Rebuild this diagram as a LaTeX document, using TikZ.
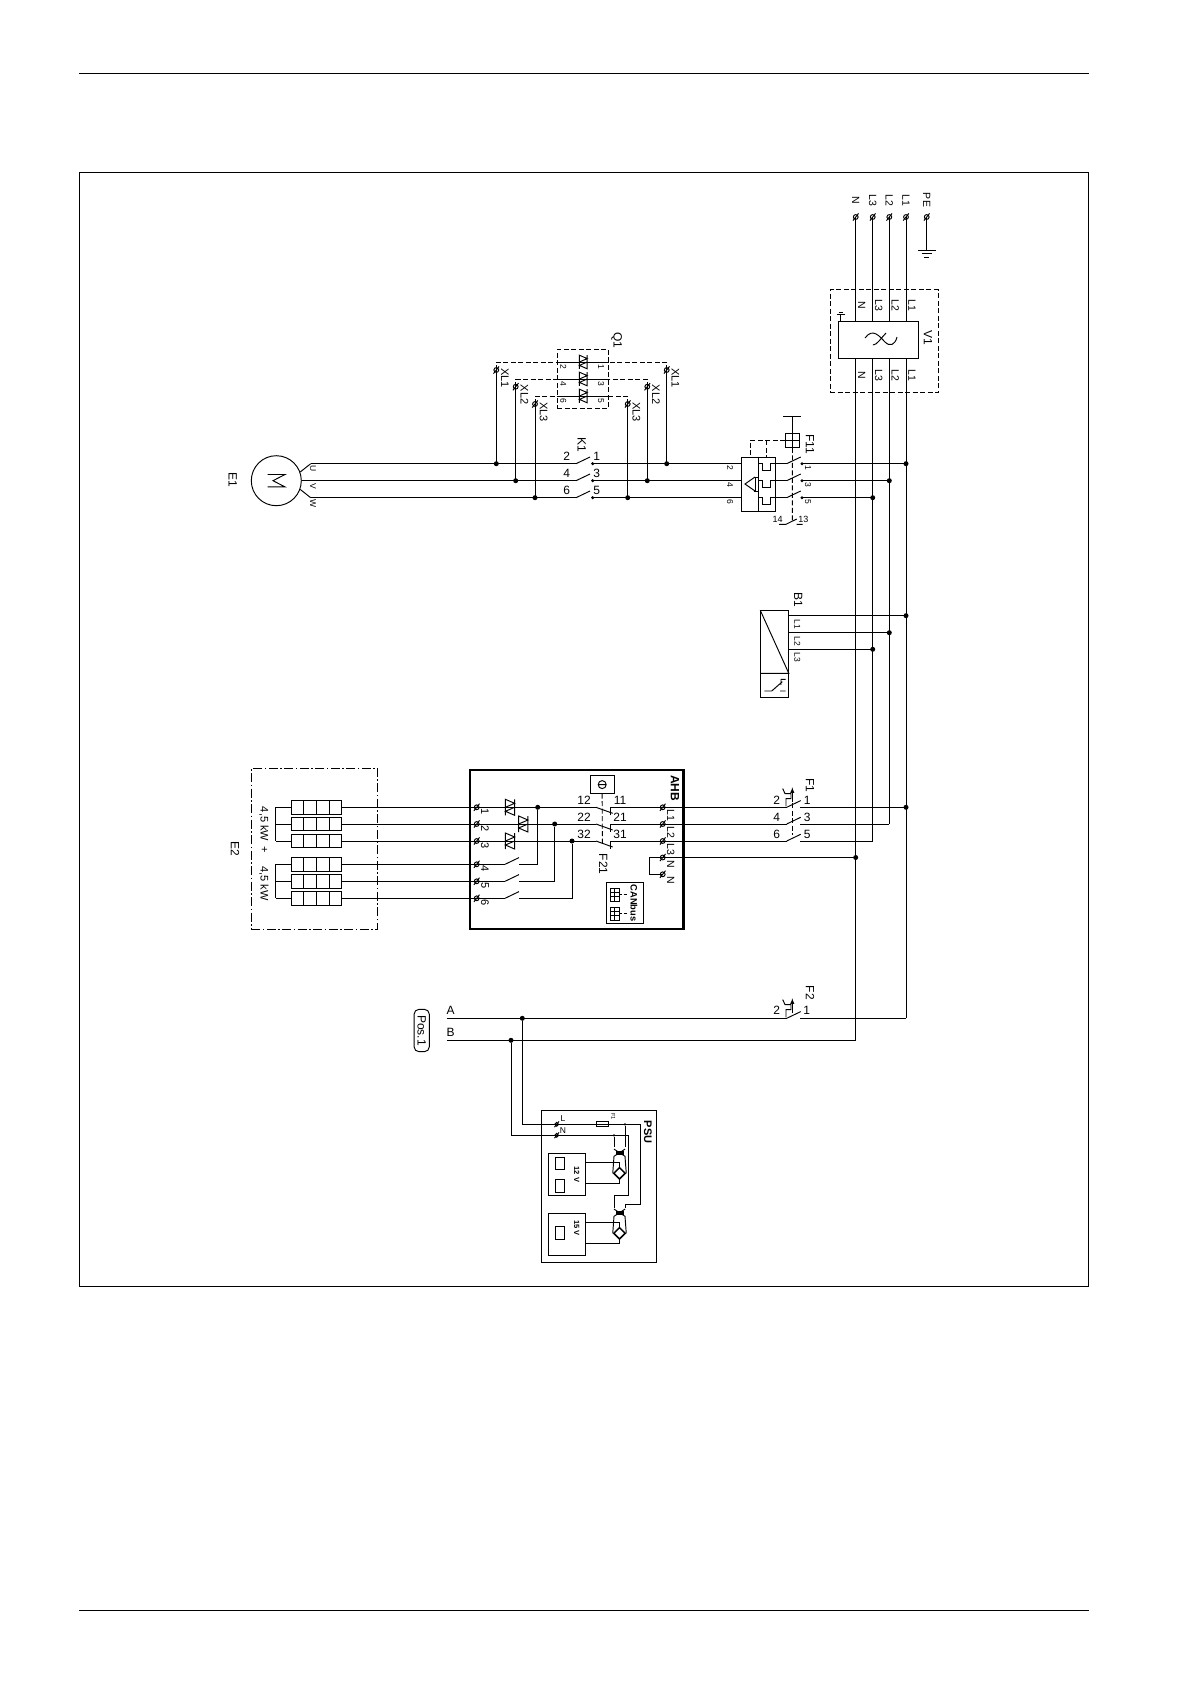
\documentclass[tikz,border=0pt]{standalone}
\usepackage{fontspec}
\setmainfont{Liberation Sans}
\usetikzlibrary{shapes.geometric}

\newcommand{\fsz}[1]{\fontsize{#1}{#1}\selectfont}

\begin{document}
\begin{tikzpicture}
    [
        x = 1pt, y = -1pt,
        line width          = .95pt,
        every node/.style   = {font=\fsz{10.5}, inner sep=0},
        boxed/.style        = {shape=rectangle, draw},
        dashbox/.style      = {shape=rectangle, draw, dash pattern=on 5pt off 2.5pt},
        dashline/.style     = {dash pattern=on 5pt off 2.5pt},
        dashdot/.style      = {dash pattern=on 9pt off 2.5pt on 1.5pt off 2.5pt},
        lab/.style          = {rotate=-90},
        biglab/.style       = {rotate=-90, font=\fsz{12}},
        num/.style          = {font=\fsz{12}},
        tiny/.style         = {rotate=-90, font=\fsz{8.5}},
        bold/.style         = {rotate=-90, font=\fsz{7.5}\bfseries},
        junction/.style     = {circle, fill, minimum size=5pt},
        clamp/.pic          = {\draw (0,0) circle (2.4); \draw (-2.8,3.6) -- (2.8,-3.6);},
        blade/.pic          = {\draw (0,0) -- (14,-6.7);},
        triac/.pic          = {\draw (-4.6,-8) -- (-4.6,8) (4.6,-8) -- (4.6,8)
                                     (-4.6,-8) -- (4.6,-4) -- (-4.6,0) -- cycle
                                     (4.6,0) -- (-4.6,4) -- (4.6,8) -- cycle;},
        heater/.pic         = {\draw (0,-6.7) rectangle (50.7,6.7);
                               \foreach \cx in {12.7,25.3,38} {\draw (\cx,-6.7) -- (\cx,6.7);}},
        thermal/.pic        = {\draw (-6.3,-1) -- (-6.3,-8.7) -- (-1.3,-8.7) -- (-1.3,-13.7)
                                     -- (-7.3,-13.7) -- (-9.6,-18.7);
                               \draw [-latex] (0,-5) -- (0,-20);},
        coils/.pic          = {\fill (-4,-1.8) rectangle (4,1.8);
                               \draw (-5.5,-3.6) -- (5.5,3.6) (5.5,-3.6) -- (-5.5,3.6);},
        plug/.pic           = {\draw [line width=.7pt] (0,0) rectangle (9,13) (4.5,0) -- (4.5,13)
                                     (0,4.3) -- (9,4.3) (0,8.7) -- (9,8.7);
                               \draw [line width=.7pt, dash pattern=on 3pt off 1.5pt] (9,6.5) -- (18,6.5);}
    ]
    \useasboundingbox (0,0) rectangle (1190,1684);

    % page
    \draw (79,73.5) -- (1089,73.5);
    \draw (79,1610) -- (1089,1610);
    \node [boxed, minimum width=1009pt, minimum height=1114pt] (frame) at (583.5,729) {};

    % supply
    \foreach \nm/\xx/\yend in {N/855.7/1040.3, L3/872.7/840.7, L2/889.3/824, L1/906/1018.3} {
        \coordinate (top\nm) at (\xx,217);
        \coordinate (bot\nm) at (\xx,\yend);
        \pic at (top\nm) {clamp};
        \node [lab] (sup\nm) at (\xx,200) {\nm};
        \node [lab] (vin\nm) at (\xx+6,305) {\nm};
        \node [lab] (vout\nm) at (\xx+6,375) {\nm};
    }
    \coordinate (topPE) at (926.7,217);
    \pic at (topPE) {clamp};
    \node [lab] (supPE) at (926.7,200) {PE};
    \coordinate (earth) at (926.7,250);
    \draw (topPE) -- (earth);
    \draw (918,250) -- (936,250) (921.5,253.5) -- (932,253.5) (924.2,257) -- (929.2,257);

    \node [dashbox, minimum width=108pt, minimum height=102.7pt] (V1frame) at (884,341.3) {};
    \node [boxed, minimum width=79.3pt, minimum height=37pt] (V1) at (878.35,340.2) {};
    \node [biglab] (labV1) at (928,338) {V1};
    \foreach \nm in {N,L3,L2,L1} {
        \draw (top\nm) -- (top\nm |- V1.north);
        \draw (top\nm |- V1.south) -- (bot\nm);
    }
    \draw (865,338) .. controls (873,327) and (880,337) .. (885,342) .. controls (890,347) and (895,345) .. (897,337);
    \draw (873,345) .. controls (877,345) and (881,338) .. (886,333);
    \draw (840.7,321.7) -- (840.7,314) (837,314) -- (844.5,314) (838.5,312.5) -- (843,312.5);

    % fan
    \node [circle, draw, minimum size=50pt] (E1) at (276.3,480.7) {};
    \node [biglab] (labE1) at (232.7,480) {E1};
    \draw (267.5,474.5) -- (285,474.5) -- (273,480.7) -- (285,486.9) -- (267.5,486.9);
    \coordinate (mot1) at (310.7,463.7);
    \coordinate (mot2) at (E1.east);
    \coordinate (mot3) at (310.7,497.7);
    \draw (E1.20) -- (mot1);
    \draw (E1.-20) -- (mot3);
    \node [tiny] (labU) at (313,469) {U};
    \node [tiny] (labV) at (313,486.7) {V};
    \node [tiny] (labW) at (313,504) {W};
    \node [biglab] (labK1) at (581.7,445) {K1};

    \node [boxed, minimum width=34pt, minimum height=54pt] (F11) at (758.7,484) {};
    \draw (F11.north) -- (F11.south);
    \foreach \i/\yy/\xbus/\ka/\kb in {1/463.7/906/2/1, 2/480.7/889.3/4/3, 3/497.7/872.7/6/5} {
        \draw (mot\i) -- (576,\yy);
        \pic at (576,\yy) {blade};
        \draw (592.7,\yy) circle (1);
        \draw (592.7,\yy) -- (741.7,\yy);
        \draw (F11.north |- 0,\yy) -- (762.7,\yy) -- (762.7,\yy+6.7) -- (770.7,\yy+6.7) -- (770.7,\yy) -- (786.7,\yy);
        \pic at (786.7,\yy) {blade};
        \draw (802,\yy) circle (1);
        \draw (802,\yy) -- (\xbus,\yy);
        \node [junction] (dotF\i) at (\xbus,\yy) {};
        \node [num] (kla\i) at (566.7,\yy-7) {\ka};
        \node [num] (klb\i) at (596.7,\yy-7) {\kb};
        \node [tiny] (fla\i) at (730,\yy+4.5) {\ka};
        \node [tiny] (flb\i) at (808,\yy+4.5) {\kb};
    }
    \draw (755,477) -- (745,484) -- (755,491);
    \draw (755.5,477) -- (755.5,491) (753.5,477) -- (757.5,477) (753.5,491) -- (757.5,491);
    \node [boxed, minimum width=13.6pt, minimum height=14pt] (F11coil) at (792.5,440.3) {};
    \draw (F11coil.north) -- (F11coil.south) (F11coil.west) -- (F11coil.east);
    \draw (F11coil.north) -- (792.5,416.7) (783,416.7) -- (801,416.7);
    \draw [dashline] (F11coil.south) -- (792.3,521);
    \draw [dashline] (F11coil.west) -- (750,440.3) -- (750,457);
    \draw [dashline] (766.7,440.3) -- (766.7,457);
    \draw (779,524.3) -- (786,524.3) -- (796.7,519) (796.7,524.3) -- (802.7,524.3);
    \node [font=\fsz{9}] (aux14) at (777.7,519) {14};
    \node [font=\fsz{9}] (aux13) at (803.3,519) {13};
    \node [biglab] (labF11) at (810,444) {F11};

    % bypass
    \node [dashbox, minimum width=51pt, minimum height=59.4pt] (Q1) at (582.8,379) {};
    \node [biglab] (labQ1) at (616.7,340) {Q1};
    \foreach \xa/\xb/\yy/\yt/\ybus/\nm/\qa/\qb in {496.3/666.7/362/370/463.7/XL1/2/1, 515.7/647.3/379/386.7/480.7/XL2/4/3, 535/627.7/396/404/497.7/XL3/6/5} {
        \coordinate (xa\nm) at (\xa,\yt);
        \coordinate (xb\nm) at (\xb,\yt);
        \pic at (xa\nm) {clamp};
        \pic at (xb\nm) {clamp};
        \draw [dashline] (xa\nm) -- (\xa,\yy) -- (Q1.west |- 0,\yy);
        \draw [dashline] (xb\nm) -- (\xb,\yy) -- (Q1.east |- 0,\yy);
        \draw (Q1.west |- 0,\yy) -- (Q1.east |- 0,\yy);
        \pic [scale=.85] at (583.3,\yy) {triac};
        \draw (xa\nm) -- (\xa,\ybus);
        \draw (xb\nm) -- (\xb,\ybus);
        \node [junction] (doa\nm) at (\xa,\ybus) {};
        \node [junction] (dob\nm) at (\xb,\ybus) {};
        \node [lab, font=\fsz{11}] (laa\nm) at (\xa+8.7,\yt+8) {\nm};
        \node [lab, font=\fsz{11}] (lab\nm) at (\xb+8.7,\yt+8) {\nm};
        \node [tiny] (qla\nm) at (563.3,\yy+4.7) {\qa};
        \node [tiny] (qlb\nm) at (601,\yy+4.7) {\qb};
    }

    % sensor
    \node [boxed, minimum width=27.6pt, minimum height=86.6pt] (B1) at (774.5,654) {};
    \node [biglab] (labB1) at (798.3,600) {B1};
    \draw (B1.north west) -- (B1.east |- 0,673.3) -- (B1.west |- 0,673.3);
    \foreach \nm/\yy/\xbus/\yl in {L1/615.7/906/624, L2/632.7/889.3/641, L3/649.3/872.7/657.5} {
        \draw (B1.east |- 0,\yy) -- (\xbus,\yy);
        \node [junction] (dotB\nm) at (\xbus,\yy) {};
        \node [lab, font=\fsz{8.5}] (lab\nm) at (797.3,\yl) {\nm};
    }
    \draw (764.3,691) -- (771.7,691) -- (782.3,681.7) (781,685) -- (781,679.3) -- (785.7,679.3) (780,691) -- (785.7,691);

    % heaters
    \node [shape=rectangle, draw, dashdot, minimum width=126.4pt, minimum height=161pt] (E2) at (314.5,848.8) {};
    \node [biglab] (labE2) at (235,849) {E2};
    \node [lab, font=\fsz{11}] (kwa) at (264,824) {4,5 kW};
    \node [lab, font=\fsz{11}] (plus) at (264,849.3) {+};
    \node [lab, font=\fsz{11}] (kwb) at (264,883.3) {4,5 kW};
    \node [boxed, line width=2.4pt, minimum width=213.3pt, minimum height=159pt] (AHB) at (576.65,849.5) {};
    \node [lab, font=\fsz{12}\bfseries] (labAHB) at (675,788) {AHB};
    \foreach \i/\yy in {1/807.3, 2/824, 3/841, 4/864.3, 5/881.3, 6/898.3} {
        \coordinate (ht\i) at (291,\yy);
        \coordinate (cl\i) at (476.7,\yy);
        \pic at (ht\i) {heater};
        \pic at (cl\i) {clamp};
        \draw (341.7,\yy) -- (cl\i);
        \draw (ht\i) -- (275.7,\yy);
        \node [lab, font=\fsz{11}] (cln\i) at (485,\yy+4.5) {\i};
    }
    \draw (275.7,807.3) -- (275.7,841) (275.7,864.3) -- (275.7,898.3);

    % heater contactor
    \foreach \i/\xdot/\yy/\ylow/\pa/\pb/\nm/\yl in {1/537.7/807.3/864.3/12/11/L1/815, 2/554.7/824/881.3/22/21/L2/832, 3/572/841/898.3/32/31/L3/849} {
        \coordinate (clr\i) at (662.7,\yy);
        \pic at (clr\i) {clamp};
        \draw (cl\i) -- (596,\yy);
        \draw (596,\yy) -- (612.7,\yy+6);
        \draw (610,\yy+8) -- (610,\yy) -- (clr\i);
        \node [junction] (dotA\i) at (\xdot,\yy) {};
        \pgfmathtruncatemacro{\lowi}{\i+3}
        \draw (cl\lowi) -- (505,\ylow);
        \pic at (505,\ylow) {blade};
        \draw (519,\ylow) -- (\xdot,\ylow) -- (dotA\i);
        \node [num] (pla\i) at (584,\yy-7) {\pa};
        \node [num] (plb\i) at (620,\yy-7) {\pb};
        \node [lab] (cll\i) at (670.7,\yl) {\nm};
    }
    \pic at (510,807.3) {triac};
    \pic at (523.3,824) {triac};
    \pic at (510,841) {triac};
    \node [boxed, minimum width=24.3pt, minimum height=17.3pt] (F21coil) at (602.2,784.6) {};
    \draw (602.2,784.6) circle (4) (598.2,784.6) -- (606.2,784.6);
    \draw [dashline] (F21coil.south) -- (602.3,845);
    \node [biglab] (labF21) at (603.3,864) {F21};
    \coordinate (clN) at (662.7,857.5);
    \coordinate (clM) at (662.7,874.3);
    \pic at (clN) {clamp};
    \pic at (clM) {clamp};
    \draw (clN) -- (649.3,857.5) -- (649.3,874.3) -- (clM);
    \node [lab] (labN) at (670.7,864) {N};
    \node [lab] (labM) at (670.7,880.7) {N};
    \node [boxed, minimum width=36.6pt, minimum height=41pt] (CAN) at (625,902.8) {};
    \node [bold, font=\fsz{9.3}\bfseries] (labCAN) at (634,903) {CANbus};
    \pic at (610,888) {plug};
    \pic at (610,907) {plug};

    % line protection
    \foreach \i/\yy/\xbus/\ka/\kb in {1/807.3/906/2/1, 2/824/889.3/4/3, 3/841/872.7/6/5} {
        \draw (clr\i) -- (786.7,\yy);
        \pic at (786.7,\yy) {blade};
        \draw (800,\yy) -- (\xbus,\yy);
        \node [num] (fna\i) at (776.7,\yy-7) {\ka};
        \node [num] (fnb\i) at (807.3,\yy-7) {\kb};
    }
    \node [junction] (dotL1) at (906,807.3) {};
    \draw (clN) -- (855.7,857.5);
    \node [junction] (dotN) at (855.7,857.5) {};
    \draw [dashline] (792.3,803) -- (792.3,835);
    \pic at (792.3,807.3) {thermal};
    \node [biglab] (labF1) at (810,785) {F1};

    % control supply
    \coordinate (lineA) at (446.7,1018.3);
    \coordinate (lineB) at (446.7,1040.3);
    \node [num] (labA) at (450.7,1010) {A};
    \node [num] (labB) at (450.7,1032.7) {B};
    \node [rectangle, rounded corners=5pt, draw, minimum width=15.3pt, minimum height=42.4pt] (pos) at (421.7,1030.5) {};
    \node [biglab] (labpos) at (421.7,1030.5) {Pos.1};
    \draw (lineA) -- (786.7,1018.3);
    \pic at (786.7,1018.3) {blade};
    \pic at (792.3,1018.3) {thermal};
    \draw (800,1018.3) -- (botL1);
    \draw (lineB) -- (botN);
    \node [num] (fsa) at (776.7,1010.7) {2};
    \node [num] (fsb) at (806.7,1010.7) {1};
    \node [biglab] (labF2) at (810,992.7) {F2};
    \node [junction] (dotA) at (522.3,1018.3) {};
    \node [junction] (dotB) at (511,1040.3) {};

    % power supply unit
    \node [boxed, minimum width=115pt, minimum height=152.3pt] (PSU) at (598.5,1186.2) {};
    \node [bold, font=\fsz{11}\bfseries] (labPSU) at (648,1132) {PSU};
    \coordinate (clL) at (556.7,1124.3);
    \coordinate (clB) at (556.7,1135.3);
    \pic [scale=.8] at (clL) {clamp};
    \pic [scale=.8] at (clB) {clamp};
    \node [font=\fsz{8.5}] (labL) at (563,1119) {L};
    \node [font=\fsz{8.5}] (labP) at (563,1131) {N};
    \draw (dotA) -- (522.3,1124.3) -- (clL);
    \draw (dotB) -- (511,1135.3) -- (clB);
    \node [boxed, minimum width=11.6pt, minimum height=5pt] (fuse) at (602.5,1124.3) {};
    \node [tiny, font=\fsz{5.5}] (labfuse) at (613.3,1116.7) {F1};
    \draw (clL) -- (640,1124.3) -- (640,1204) -- (625,1204) -- (625,1208);
    \draw (clB) -- (628.3,1135.3) -- (628.3,1195) -- (614,1195) -- (614,1208);
    \node [junction, minimum size=2.6pt] (dotC) at (625,1124.3) {};
    \node [junction, minimum size=2.6pt] (dotD) at (614,1135.3) {};
    \draw (dotC) -- (625,1147);
    \draw (dotD) -- (614,1147);
    \pic at (619.5,1152.7) {coils};
    \pic at (619.5,1212.7) {coils};
    \foreach \nm/\yb/\ya/\yc/\yt/\volts/\yv in {A/1173.3/1162.3/1183.3/1152.7/12 V/1174.3, B/1233.3/1222.3/1243.3/1212.7/15 V/1228} {
        \node [diamond, draw, line width=1.5pt, minimum size=12pt] (br\nm) at (619.5,\yb) {};
        \draw (614,\yt+3.5) -- (br\nm.west);
        \draw (625,\yt+3.5) -- (br\nm.east);
        \node [boxed, minimum width=36.7pt, minimum height=42.3pt] (out\nm) at (567.3,\yb+1.2) {};
        \draw (out\nm.east |- 0,\ya) -- (619.5,\ya) -- (br\nm.north);
        \draw (out\nm.east |- 0,\yc) -- (619.5,\yc) -- (br\nm.south);
        \node [bold] (lv\nm) at (576.7,\yv) {\volts};
    }
    \node [boxed, minimum width=9.3pt, minimum height=12pt] (recA) at (560.3,1163.3) {};
    \node [boxed, minimum width=9.3pt, minimum height=12.7pt] (recB) at (560.3,1186.3) {};
    \node [boxed, minimum width=9.3pt, minimum height=13.3pt] (recC) at (560.3,1233.3) {};
\end{tikzpicture}
\end{document}
